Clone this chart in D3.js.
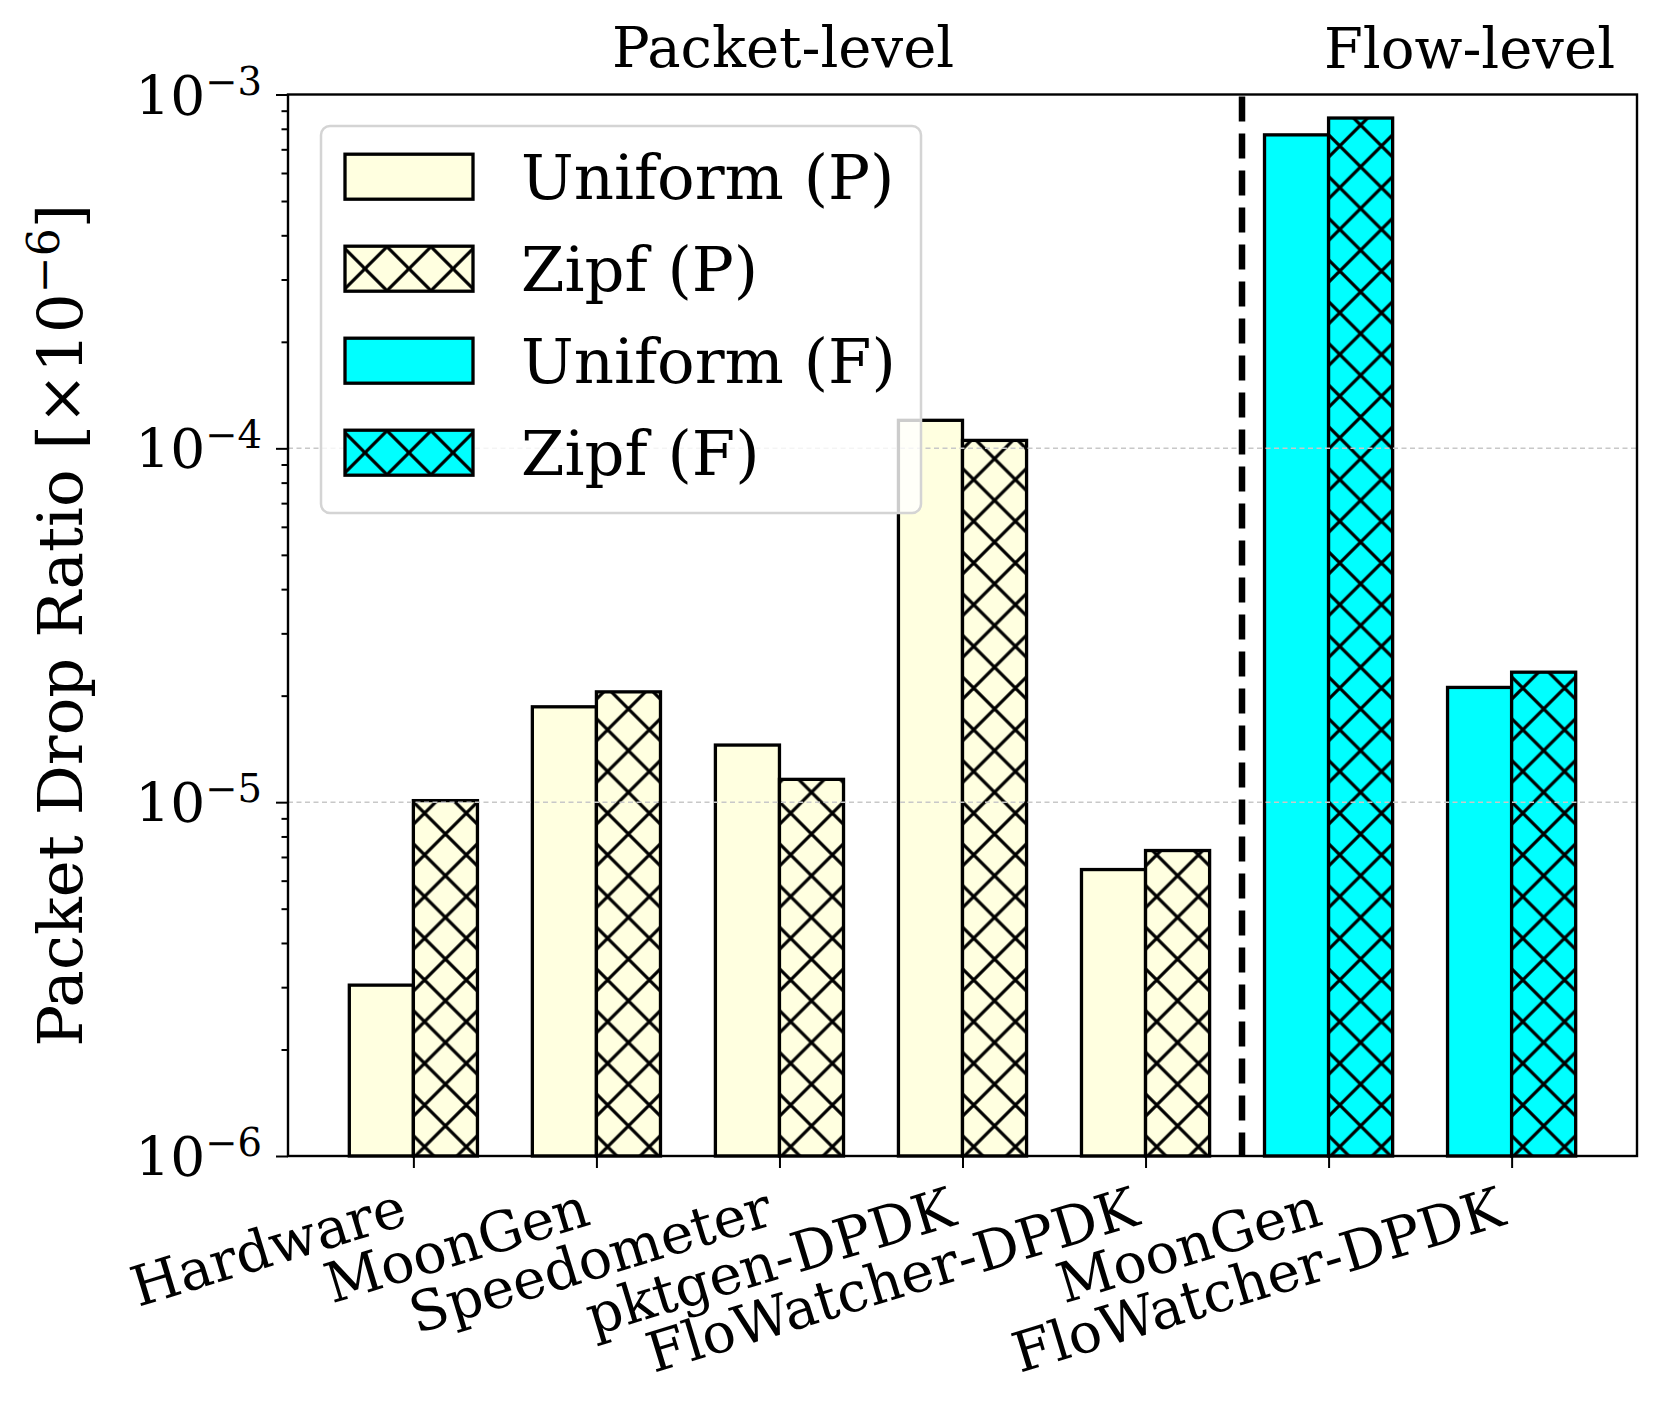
<!DOCTYPE html>
<html><head><meta charset="utf-8">
<script src="https://cdn.jsdelivr.net/npm/d3@7"></script>
<style>
body{margin:0;background:#fff}
svg{display:block}
text{font-family:"DejaVu Serif",serif;fill:#000}
</style>
</head><body>
<svg id="chart" width="1662" height="1415"></svg>
<script>
// ---------- data ----------
const categories = ["Hardware","MoonGen","Speedometer","pktgen-DPDK","FloWatcher-DPDK","MoonGen","FloWatcher-DPDK"];
const groupLabels = ["Packet-level","Flow-level"];
const uniformP = [3.04e-6, 1.86e-5, 1.45e-5, 1.20e-4, 6.45e-6];
const zipfP    = [1.01e-5, 2.05e-5, 1.16e-5, 1.053e-4, 7.3e-6];
const uniformF = [7.69e-4, 2.11e-5];
const zipfF    = [8.58e-4, 2.33e-5];
const yTickExps = [-6, -5, -4, -3];
const legendLabels = ["Uniform (P)", "Zipf (P)", "Uniform (F)", "Zipf (F)"];
const yLabelMain = "Packet Drop Ratio [\u00d710";
const yLabelSup = "\u22126";

// ---------- layout ----------
const L = 288, R = 1637, T = 94.5, B = 1156;
const yellow = "#ffffe0", cyan = "#00ffff";
const barW = 0.35, hatchS = 41.7;

const svg = d3.select("#chart");
const x = d3.scaleLinear().domain([-0.685, 6.685]).range([L, R]);
const y = d3.scaleLog().domain([1e-6, 1e-3]).range([B, T]);

// build bars
const bars = [];
uniformP.forEach((v, i) => bars.push({c: i, x0: i - barW, v, fill: yellow, hatch: false}));
zipfP.forEach((v, i) => bars.push({c: i, x0: i, v, fill: yellow, hatch: true}));
uniformF.forEach((v, j) => bars.push({c: 5 + j, x0: 5 + j - barW, v, fill: cyan, hatch: false}));
zipfF.forEach((v, j) => bars.push({c: 5 + j, x0: 5 + j, v, fill: cyan, hatch: true}));

const defs = svg.append("defs");
function hatchPattern(id, fill, ox, oy, s) {
  const p = defs.append("pattern").attr("id", id).attr("patternUnits", "userSpaceOnUse")
    .attr("x", ox).attr("y", oy).attr("width", s).attr("height", s);
  p.append("rect").attr("width", s).attr("height", s).attr("fill", fill);
  const d = `M${-s},${-s}L${2*s},${2*s}M${-s},0L${s},${2*s}M0,${-s}L${2*s},${s}` +
            `M${-s},${s}L${s},${-s}M${-s},${2*s}L${2*s},${-s}M0,${2*s}L${2*s},0`;
  p.append("path").attr("d", d).attr("stroke", "#000").attr("stroke-width", 3.2).attr("fill", "none");
  return `url(#${id})`;
}

const gBars = svg.append("g");
bars.forEach((b, k) => {
  const px0 = x(b.x0), px1 = x(b.x0 + barW);
  let fill = b.fill;
  if (b.hatch) fill = hatchPattern("hb" + k, b.fill, (px0 + px1) / 2, 0, hatchS);
  gBars.append("rect")
    .attr("x", px0).attr("y", y(b.v))
    .attr("width", px1 - px0).attr("height", y(1e-6) - y(b.v))
    .attr("fill", fill).attr("stroke", "#000").attr("stroke-width", 3.3);
});

// grid (major, above bars)
const majors = yTickExps.map(e => Math.pow(10, e));
svg.append("g").selectAll("line").data(majors.slice(1, -1)).join("line")
  .attr("x1", L).attr("x2", R).attr("y1", d => y(d)).attr("y2", d => y(d))
  .attr("stroke", "#c8c8c8").attr("stroke-width", 1.5).attr("stroke-dasharray", "5,3.5");

// separator dashed line
svg.append("line").attr("x1", x(4.527)).attr("x2", x(4.527)).attr("y1", T + 2).attr("y2", B)
  .attr("stroke", "#000").attr("stroke-width", 6.5).attr("stroke-dasharray", "25,12");

// axes frame
svg.append("rect").attr("x", L).attr("y", T).attr("width", R - L).attr("height", B - T)
  .attr("fill", "none").attr("stroke", "#000").attr("stroke-width", 2.4);

// y ticks
const minors = [];
for (let e = -6; e < -3; e++) for (let m = 2; m <= 9; m++) minors.push(m * Math.pow(10, e));
const yAxisMaj = svg.append("g").attr("transform", `translate(${L},0)`)
  .call(d3.axisLeft(y).tickValues(majors).tickSize(12).tickFormat(""));
const yAxisMin = svg.append("g").attr("transform", `translate(${L},0)`)
  .call(d3.axisLeft(y).tickValues(minors).tickSize(6.5).tickFormat(""));
[yAxisMaj, yAxisMin].forEach(g => {
  g.select(".domain").remove();
  g.selectAll(".tick line").attr("stroke", "#000").attr("stroke-width", 2);
});

// y tick labels
const yl = svg.append("g");
yTickExps.forEach(e => {
  const t = yl.append("text").attr("x", 262).attr("y", y(Math.pow(10, e)) + 20)
    .attr("text-anchor", "end").attr("font-size", 55);
  t.append("tspan").text("10");
  t.append("tspan").attr("font-size", 38.5).attr("dy", -20).text("\u2212" + Math.abs(e));
});

// x ticks
const xAxis = svg.append("g").attr("transform", `translate(0,${B})`)
  .call(d3.axisBottom(x).tickValues(d3.range(categories.length)).tickSize(12).tickFormat(""));
xAxis.select(".domain").remove();
xAxis.selectAll(".tick line").attr("stroke", "#000").attr("stroke-width", 2);

// x tick labels
svg.append("g").selectAll("text").data(categories).join("text")
  .attr("transform", (d, i) => `translate(${x(i) - 4},1224) rotate(-17)`)
  .attr("text-anchor", "end").attr("font-size", 55.5).text(d => d);

// y label
const ylab = svg.append("text").attr("transform", `translate(82,${(T + B) / 2}) rotate(-90)`)
  .attr("text-anchor", "middle").attr("font-size", 62.5);
ylab.append("tspan").text(yLabelMain);
ylab.append("tspan").attr("font-size", 44).attr("dy", -23).text(yLabelSup);
ylab.append("tspan").attr("dy", 23).text("]");

// group labels
svg.append("text").attr("x", x(2.02)).attr("y", 66.5).attr("text-anchor", "middle")
  .attr("font-size", 56).text(groupLabels[0]);
svg.append("text").attr("x", x(5.77)).attr("y", 67.5).attr("text-anchor", "middle")
  .attr("font-size", 56).text(groupLabels[1]);

// legend
const lg = svg.append("g");
lg.append("rect").attr("x", 321).attr("y", 126).attr("width", 600).attr("height", 387)
  .attr("rx", 9).attr("fill", "#fff").attr("fill-opacity", 0.8)
  .attr("stroke", "#d4d4d4").attr("stroke-width", 2.5);
const legFills = [yellow, yellow, cyan, cyan];
const legHatch = [false, true, false, true];
legendLabels.forEach((lab, i) => {
  const cy = 176.7 + i * 92;
  let f = legFills[i];
  if (legHatch[i]) f = hatchPattern("hl" + i, legFills[i], 409, cy, 44);
  lg.append("rect").attr("x", 345).attr("y", cy - 22.5).attr("width", 128).attr("height", 45)
    .attr("fill", f).attr("stroke", "#000").attr("stroke-width", 3.3);
  lg.append("text").attr("x", 521).attr("y", cy + 22.5).attr("font-size", 62.5).text(lab);
});
</script>
</body></html>
